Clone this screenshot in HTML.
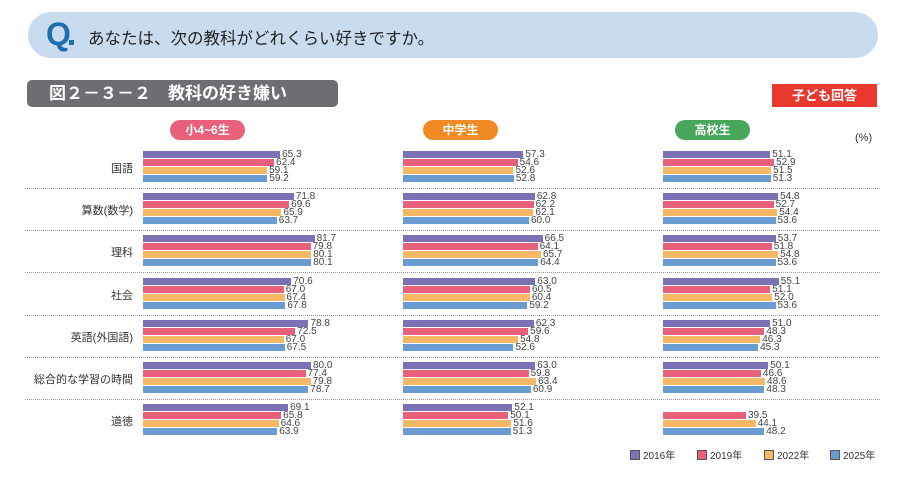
<!DOCTYPE html>
<html><head><meta charset="utf-8"><style>
body{margin:0;width:913px;height:500px;background:#fff;position:relative;overflow:hidden;font-family:"Liberation Sans","Noto Sans CJK JP",sans-serif;}
.a{position:absolute}
.bar{position:absolute;height:7px}
.v{position:absolute;font-size:10px;color:#444;line-height:8px}
.lbl{position:absolute;font-size:11px;color:#333;width:130px;text-align:right;left:3px}
.sep{position:absolute;left:25px;width:855px;border-top:1px dotted #999;height:0}
.pill{position:absolute;top:120px;height:20px;width:75px;border-radius:10px;color:#fff;font-size:12px;font-weight:bold;text-align:center;line-height:20px}
.lg{position:absolute;top:447px;font-size:10px;color:#333}
.lg i{display:inline-block;width:8px;height:8px;border:1px solid #555;vertical-align:-1px;margin-right:3px}
</style></head><body>
<div class="a" style="left:28px;top:12px;width:850px;height:46px;background:#c9dcef;border-radius:23px"></div>
<div class="a" style="left:46px;top:16px;font-size:32px;font-weight:bold;color:#1f6fae">Q</div>
<div class="a" style="left:69px;top:40px;width:5px;height:5px;background:#1f6fae"></div>
<div class="a" style="left:88px;top:25px;font-size:16.5px;color:#222">あなたは、次の教科がどれくらい好きですか。</div>
<div class="a" style="left:27px;top:80px;width:311px;height:27px;background:#6d6e71;border-radius:5px;color:#fff;font-size:17px;font-weight:bold;line-height:27px;padding-left:22px;box-sizing:border-box">図２－３－２　教科の好き嫌い</div>
<div class="a" style="left:772px;top:84px;width:105px;height:23px;background:#e8382f;color:#fff;font-size:13px;font-weight:bold;text-align:center;line-height:23px">子ども回答</div>
<div class="pill" style="left:170px;background:#e8607a">小4~6生</div>
<div class="pill" style="left:423px;background:#f08a25">中学生</div>
<div class="pill" style="left:675px;background:#48a75a">高校生</div>
<div class="a" style="left:855px;top:132px;font-size:11px;color:#333">(%)</div>
<div id="c"></div>
<div class="lg" style="left:630px"><i style="background:#7b72b5"></i>2016年</div>
<div class="lg" style="left:697px"><i style="background:#e8607a"></i>2019年</div>
<div class="lg" style="left:764px"><i style="background:#f7b866"></i>2022年</div>
<div class="lg" style="left:830px"><i style="background:#6a9bd1"></i>2025年</div>
<script>
var L=["国語","算数(数学)","理科","社会","英語(外国語)","総合的な学習の時間","道徳"];
var D=[[[65.3,62.4,59.1,59.2],[57.3,54.6,52.6,52.8],[51.1,52.9,51.5,51.3]],
[[71.8,69.6,65.9,63.7],[62.8,62.2,62.1,60.0],[54.8,52.7,54.4,53.6]],
[[81.7,79.8,80.1,80.1],[66.5,64.1,65.7,64.4],[53.7,51.8,54.8,53.6]],
[[70.6,67.0,67.4,67.8],[63.0,60.5,60.4,59.2],[55.1,51.1,52.0,53.6]],
[[78.8,72.5,67.0,67.5],[62.3,59.6,54.8,52.6],[51.0,48.3,46.3,45.3]],
[[80.0,77.4,79.8,78.7],[63.0,59.8,63.4,60.9],[50.1,46.6,48.6,48.3]],
[[69.1,65.8,64.6,63.9],[52.1,50.1,51.6,51.3],[null,39.5,44.1,48.2]]];
var C=["#7b72b5","#e8607a","#f7b866","#6a9bd1"],X=[143,403,663],h="";
for(var r=0;r<7;r++){var t=151+r*42.2;
h+='<div class="lbl" style="top:'+(t+9)+'px">'+L[r]+'</div>';
if(r<6)h+='<div class="sep" style="top:'+(t+37)+'px"></div>';
for(var p=0;p<3;p++)for(var k=0;k<4;k++){var v=D[r][p][k];if(v==null)continue;var w=v*2.1;
h+='<div class="bar" style="left:'+X[p]+'px;top:'+(t+k*8)+'px;width:'+w+'px;background:'+C[k]+'"></div>';
h+='<div class="v" style="left:'+(X[p]+w+2)+'px;top:'+(t+k*8)+'px">'+v.toFixed(1)+'</div>';}}
document.getElementById("c").innerHTML=h;
</script>
</body></html>
